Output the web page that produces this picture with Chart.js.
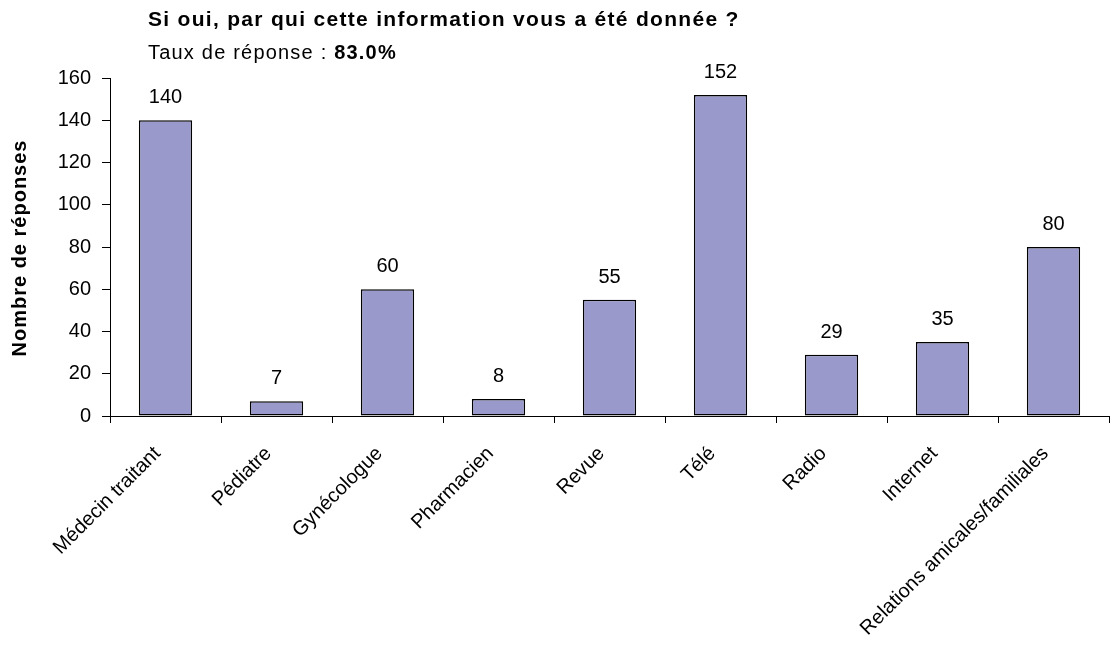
<!DOCTYPE html>
<html>
<head>
<meta charset="utf-8">
<script src="https://cdn.jsdelivr.net/npm/chart.js@4.4.0/dist/chart.umd.min.js"></script>
<style>
  html, body { margin: 0; padding: 0; background: #fff; }
  #wrap { width: 1113px; height: 666px; }
</style>
</head>
<body>
<div id="wrap"><canvas id="c" width="1113" height="666"></canvas></div>
<script>
// chart data
const categories = ['Médecin traitant', 'Pédiatre', 'Gynécologue', 'Pharmacien', 'Revue',
  'Télé', 'Radio', 'Internet', 'Relations amicales/familiales'];
const responses = [140, 7, 60, 8, 55, 152, 29, 35, 80];
const yTicks = [0, 20, 40, 60, 80, 100, 120, 140, 160];

const titleText = 'Si oui, par qui cette information vous a été donnée ?';
const rateLabel = 'Taux de réponse : ';
const rateValue = '83.0%';
const yTitle = 'Nombre de réponses';

const FONT = 'Liberation Sans, Arial, sans-serif';

// title, subtitle and y title drawn by hand (old excel look, wide spacing)
const headerPlugin = {
  id: 'header',
  afterDraw(chart) {
    const ctx = chart.ctx;
    ctx.save();
    ctx.fillStyle = '#000';
    ctx.textBaseline = 'alphabetic';
    ctx.textAlign = 'left';
    ctx.letterSpacing = '1.3px';
    ctx.font = 'bold 21px ' + FONT;
    ctx.fillText(titleText, 148, 26);
    ctx.letterSpacing = '1.2px';
    ctx.font = '20px ' + FONT;
    ctx.fillText(rateLabel, 148, 59);
    let w = ctx.measureText(rateLabel).width;
    ctx.font = 'bold 20px ' + FONT;
    ctx.fillText(rateValue, 148 + w, 59);

    // y axis title
    ctx.translate(20, 248);
    ctx.rotate(-Math.PI / 2);
    ctx.textAlign = 'center';
    ctx.textBaseline = 'middle';
    ctx.letterSpacing = '1px';
    ctx.font = 'bold 20px ' + FONT;
    ctx.fillText(yTitle, 0, 0);
    ctx.restore();
  }
};

// values above each bar
const valueLabels = {
  id: 'valueLabels',
  afterDatasetsDraw(chart) {
    const ctx = chart.ctx;
    const meta = chart.getDatasetMeta(0);
    ctx.save();
    ctx.font = '20px ' + FONT;
    ctx.fillStyle = '#000';
    ctx.textAlign = 'center';
    ctx.textBaseline = 'alphabetic';
    meta.data.forEach((bar, i) => {
      ctx.fillText(String(responses[i]), bar.x, bar.y - 17);
    });
    ctx.restore();
  }
};

new Chart(document.getElementById('c'), {
  type: 'bar',
  data: {
    labels: categories,
    datasets: [{
      data: responses,
      backgroundColor: '#9999CC',
      borderColor: '#000',
      borderWidth: 1.5,
      borderSkipped: false,
      categoryPercentage: 1,
      barPercentage: 0.48
    }]
  },
  options: {
    responsive: false,
    animation: false,
    layout: { padding: { top: 78, right: 4, left: 0, bottom: 0 } },
    plugins: {
      legend: { display: false },
      tooltip: { enabled: false },
      title: { display: false }
    },
    scales: {
      x: {
        offset: true,
        grid: { offset: true, drawOnChartArea: false, color: '#000', tickLength: 7, tickColor: '#000' },
        border: { color: '#000', width: 1 },
        ticks: {
          color: '#000',
          font: { family: FONT, size: 20 },
          maxRotation: 45,
          minRotation: 45,
          padding: 19,
          labelOffset: -8,
          autoSkip: false
        },
        afterFit(s) { s.height = 250; }
      },
      y: {
        min: 0,
        max: 160,
        afterBuildTicks(s) { s.ticks = yTicks.map(v => ({ value: v })); },
        grid: { drawOnChartArea: false, color: '#000', tickLength: 8, tickColor: '#000' },
        border: { color: '#000', width: 1 },
        ticks: {
          color: '#000',
          font: { family: FONT, size: 20 },
          padding: 11
        },
        afterFit(s) { s.width = 110; }
      }
    }
  },
  plugins: [headerPlugin, valueLabels]
});
</script>
</body>
</html>
